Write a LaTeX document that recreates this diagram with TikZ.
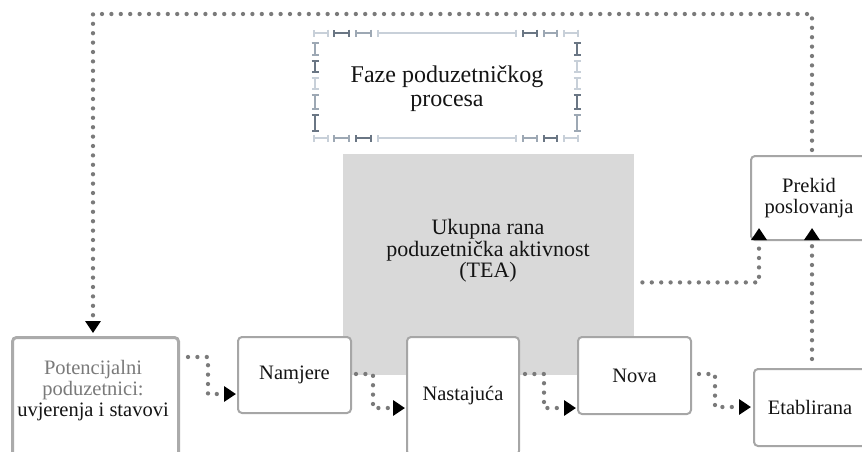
\documentclass[tikz,border=0pt]{standalone}
\usepackage{fontspec}
\setmainfont{Liberation Serif}
\usetikzlibrary{arrows.meta,calc}

\definecolor{boxline}{HTML}{A6A6A6}
\definecolor{potline}{HTML}{ABABAB}
\definecolor{dotgray}{HTML}{7A7A7A}
\definecolor{teafill}{HTML}{D9D9D9}
\definecolor{segL}{HTML}{C8D0D9}
\definecolor{segM}{HTML}{9DA8B4}
\definecolor{segD}{HTML}{6A7684}
\definecolor{softtext}{HTML}{7A7A7A}
\definecolor{inktext}{HTML}{141414}

\tikzset{
  stagebox/.style={draw=boxline, line width=2pt, fill=white, rounded corners=4pt,
    inner sep=0pt, anchor=north west, text=inktext, align=center,
    font=\fontsize{20.5}{21}\selectfont},
  potbox/.style={stagebox, draw=potline, line width=3pt},
  plaintext/.style={text=inktext, align=center, inner sep=0pt,
    font=\fontsize{20.5}{21}\selectfont},
  tiphead/.tip={Triangle[width=15pt,length=12pt,color=black]},
  flow/.style={draw=dotgray, line width=4.3pt, line cap=round,
    dash pattern=on 0pt off 9.4pt, -tiphead},
  seg/.style={line width=2.6pt,
    {Bar[width=7pt,line width=2pt]}-{Bar[width=7pt,line width=2pt]}},
}

\begin{document}
\begin{tikzpicture}[x=1pt,y=-1pt]
  \useasboundingbox (0,0) rectangle (862,451);
  \clip (0,0) rectangle (862,451);

  % title frame built from short bar segments
  \foreach \a/\b/\c in {313/329/segL,333/350/segD,355/372/segM,377/517/segL,
                        522/538/segD,543/558/segM,563/579/segL}
    \draw[seg,draw=\c] (\a,33) -- (\b,33);
  \foreach \a/\b/\c in {313/329/segL,333/350/segM,355/372/segD,377/517/segL,
                        522/538/segM,543/558/segD,563/579/segL}
    \draw[seg,draw=\c] (\a,138) -- (\b,138);
  \foreach \a/\b/\c in {42/56/segM,60/73/segD,77/90/segL,94/110/segM,114/132/segD}
    \draw[seg,draw=\c] (315,\a) -- (315,\b);
  \foreach \a/\b/\c in {42/56/segD,60/73/segL,77/90/segL,94/110/segD,114/132/segM}
    \draw[seg,draw=\c] (577,\a) -- (577,\b);
  \node[plaintext, font=\fontsize{24}{24}\selectfont] (faze) at (447,89)
    {Faze poduzetničkog\\procesa};

  % early-stage activity area
  \node[fill=teafill, minimum width=291pt, minimum height=221pt, inner sep=0pt,
        anchor=north west] (tea) at (343,154) {};
  \node[plaintext, font=\fontsize{22}{21.5}\selectfont] (teatext) at (488,251)
    {Ukupna rana\\poduzetnička aktivnost\\(TEA)};

  % stages
  \node[potbox, minimum width=166pt, minimum height=150pt] (pot) at (11,336) {};
  \node[plaintext] (pottext) at (93,391)
    {\textcolor{softtext}{Potencijalni}\\\textcolor{softtext}{poduzetnici:}\\uvjerenja i stavovi};
  \node[stagebox, minimum width=113pt, minimum height=76pt] (nam) at (237,336) {Namjere};
  \node[stagebox, minimum width=112pt, minimum height=118pt] (nast) at (406,336) {Nastajuća};
  \node[stagebox, minimum width=113pt, minimum height=77pt] (nova) at (577,336) {Nova};
  \node[stagebox, minimum width=112pt, minimum height=77pt] (etab) at (753,368) {Etablirana};
  \node[stagebox, minimum width=116pt, minimum height=84pt] (pk) at (750,155) {Prekid\\poslovanja};

  % flows between stages
  \draw[flow] ($(pot.north east)+(8,21)$) -- ++(20,0) |- ($(nam.south west)+(-1,-20)$);
  \draw[flow] ($(nam.north east)+(4,38)$) -- ++(17,0) |- ($(nast.north west)+(-1,72)$);
  \draw[flow] ($(nast.north east)+(5,38)$) -- ++(19,0) |- ($(nova.north west)+(-1,72)$);
  \draw[flow] ($(nova.north east)+(7,38)$) -- ++(16,0) |- ($(etab.north west)+(-2,39)$);
  \draw[flow] ($(tea.south east)+(8,-93)$) -| ($(pk.south west)+(9,-13)$);
  \draw[flow] ($(etab.north west)+(59,-9)$) -- ($(pk.south west)+(62,-13)$);

  % feedback loop from discontinuation back to potential entrepreneurs
  \coordinate (loopR) at (812,14);
  \coordinate (loopL) at (93,14);
  \draw[flow] ($(pk.north west)+(62,-5)$) -- (loopR) -- (loopL)
    -- ($(pot.north west)+(82,-3)$);
\end{tikzpicture}
\end{document}
